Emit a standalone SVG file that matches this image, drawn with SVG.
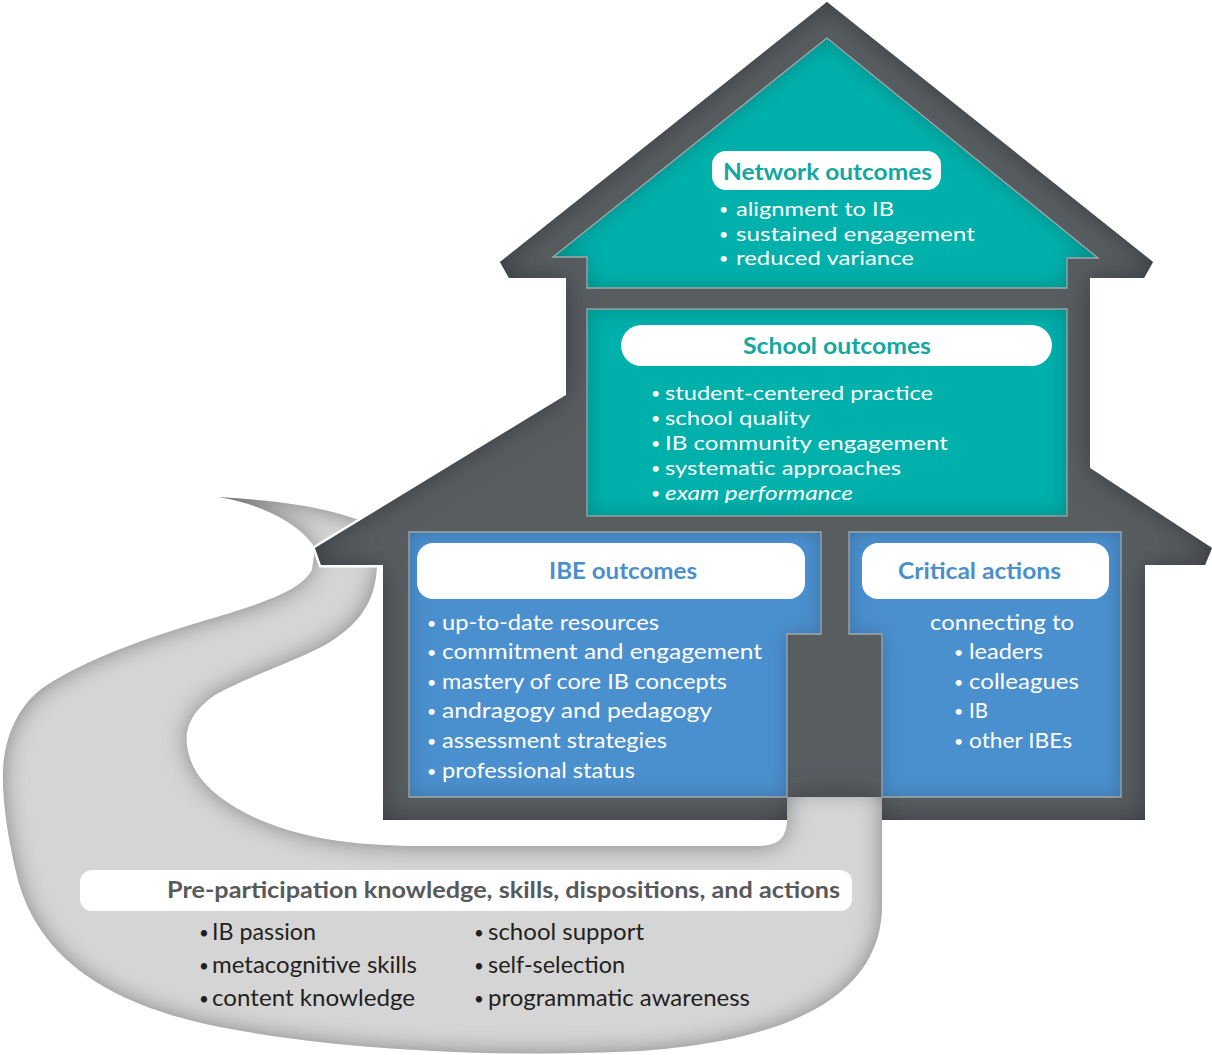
<svg xmlns="http://www.w3.org/2000/svg" xmlns:xlink="http://www.w3.org/1999/xlink" width="1212" height="1055" viewBox="0 0 1212 1055">
<style>
  text { font-family: Lato, "Open Sans", "DejaVu Sans", sans-serif; }
  .body { font-size: 22px; fill: #ffffff; }
  .tight { font-size: 20px; }
  .b { font-size: 16px; }
  .bb { font-size: 17px; }
  .title { font-size: 22px; font-weight: 700; text-anchor: middle; }
  .teal { fill: #12a7a2; }
  .blue { fill: #4a8fcb; }
  .bot { font-size: 23px; fill: #231f20; }
  .bottitle { font-size: 22px; font-weight: 700; fill: #58595b; }
  .edge { fill: none; stroke: #a3a6a8; stroke-width: 1.3; }
  .pill { fill: #ffffff; }
</style>
<defs>
  <filter id="inDark" x="-10%" y="-10%" width="120%" height="120%">
    <feFlood flood-color="#36393c" result="c"/>
    <feComposite in="c" in2="SourceAlpha" operator="out" result="o"/>
    <feGaussianBlur in="o" stdDeviation="14" result="b"/>
    <feComposite in="b" in2="SourceAlpha" operator="in" result="s"/>
    <feMerge><feMergeNode in="SourceGraphic"/><feMergeNode in="s"/></feMerge>
  </filter>
  <filter id="inTeal" x="-10%" y="-10%" width="120%" height="120%">
    <feFlood flood-color="#008580" result="c"/>
    <feComposite in="c" in2="SourceAlpha" operator="out" result="o"/>
    <feGaussianBlur in="o" stdDeviation="11" result="b"/>
    <feComposite in="b" in2="SourceAlpha" operator="in" result="s"/>
    <feMerge><feMergeNode in="SourceGraphic"/><feMergeNode in="s"/></feMerge>
  </filter>
  <filter id="inBlue" x="-10%" y="-10%" width="120%" height="120%">
    <feFlood flood-color="#3a70a3" result="c"/>
    <feComposite in="c" in2="SourceAlpha" operator="out" result="o"/>
    <feGaussianBlur in="o" stdDeviation="10" result="b"/>
    <feComposite in="b" in2="SourceAlpha" operator="in" result="s"/>
    <feMerge><feMergeNode in="SourceGraphic"/><feMergeNode in="s"/></feMerge>
  </filter>
  <filter id="inGray" x="-10%" y="-10%" width="120%" height="120%">
    <feFlood flood-color="#6f6f6f" result="c"/>
    <feComposite in="c" in2="SourceAlpha" operator="out" result="o"/>
    <feGaussianBlur in="o" stdDeviation="12" result="b"/>
    <feComposite in="b" in2="SourceAlpha" operator="in" result="s"/>
    <feMerge><feMergeNode in="SourceGraphic"/><feMergeNode in="s"/></feMerge>
  </filter>
  <path id="band" d="M218,497 C270,500 320,506 356,519 L420,540 L377,565 C376,595 365,620 330,642 C300,660 250,675 215,695 C190,712 185,730 187,745 C190,775 215,800 260,820 C300,837 350,846 420,846 L760,846 Q787,846 787,820 L787,790 L882,790 L882,905 C882,990 800,1040 640,1051 C500,1058 330,1050 210,1025 C110,1003 40,960 18,880 C8,840 2,800 3,770 C5,735 18,708 40,690 C75,665 130,643 200,622 C260,604 300,592 312,570 L315,548 C305,530 270,505 218,497 Z"/>
  <path id="hs" d="M827,2 L1153,262 L1144,278 L1090,278 L1090,468 L1212,548 L1205,565 L1145,565 L1145,820 L882,820 L882,797 L787,797 L787,820 L383,820 L383,565 L321,565 L315,548 L566,395 L566,278 L509,278 L500,262 Z"/>
  <clipPath id="doorClip"><rect x="787" y="797" width="95" height="30"/></clipPath>
  <path id="roofIn" d="M827,38 L553,257 L587,257 L587,288 L1067,288 L1067,258 L1098,258 Z"/>
  <path id="ibeBox" d="M409,532 L821,532 L821,634 L787,634 L787,797 L409,797 Z"/>
  <path id="critBox" d="M849,532 L1121,532 L1121,797 L882,797 L882,634 L849,634 Z"/>
  <rect id="schoolBox" x="587" y="309" width="480" height="207"/>
</defs>

<g id="connectors">
  <use xlink:href="#band" href="#band" fill="#d5d5d5" filter="url(#inGray)"/>
</g>

<g id="house">
  <use xlink:href="#hs" href="#hs" fill="none" stroke="#ffffff" stroke-width="5" stroke-linejoin="miter"/>
  <use xlink:href="#hs" href="#hs" fill="#595d60" filter="url(#inDark)"/>
</g>

<g id="door-path" clip-path="url(#doorClip)">
  <use xlink:href="#band" href="#band" fill="#d5d5d5" filter="url(#inGray)"/>
</g>

<g id="network">
  <use xlink:href="#roofIn" href="#roofIn" fill="#00b0ab" filter="url(#inTeal)"/>
  <use xlink:href="#roofIn" href="#roofIn" class="edge"/>
  <rect class="pill" x="712" y="151" width="229" height="39" rx="14"/>
  <text class="title teal" x="827.5" y="180" textLength="209" lengthAdjust="spacingAndGlyphs">Network outcomes</text>
  <text class="body tight"><tspan class="b" x="719" y="215">•</tspan><tspan x="736" y="216" textLength="158" lengthAdjust="spacingAndGlyphs">alignment to IB</tspan><tspan class="b" x="719" y="240">•</tspan><tspan x="736" y="241" textLength="239" lengthAdjust="spacingAndGlyphs">sustained engagement</tspan><tspan class="b" x="719" y="264">•</tspan><tspan x="736" y="265" textLength="178" lengthAdjust="spacingAndGlyphs">reduced variance</tspan></text>
</g>

<g id="school">
  <use xlink:href="#schoolBox" href="#schoolBox" fill="#00b0ab" filter="url(#inTeal)"/>
  <use xlink:href="#schoolBox" href="#schoolBox" class="edge"/>
  <rect class="pill" x="621" y="325" width="431" height="41" rx="20.5"/>
  <text class="title teal" x="837" y="354" textLength="188" lengthAdjust="spacingAndGlyphs">School outcomes</text>
  <text class="body tight"><tspan class="b" x="651" y="399">•</tspan><tspan x="665" y="400" textLength="268" lengthAdjust="spacingAndGlyphs">student-centered practice</tspan><tspan class="b" x="651" y="424">•</tspan><tspan x="665" y="425" textLength="145" lengthAdjust="spacingAndGlyphs">school quality</tspan><tspan class="b" x="651" y="449">•</tspan><tspan x="665" y="450" textLength="283" lengthAdjust="spacingAndGlyphs">IB community engagement</tspan><tspan class="b" x="651" y="474">•</tspan><tspan x="665" y="475" textLength="236" lengthAdjust="spacingAndGlyphs">systematic approaches</tspan><tspan class="b" x="651" y="499">•</tspan><tspan x="665" y="500" font-style="italic" textLength="188" lengthAdjust="spacingAndGlyphs">exam performance</tspan></text>
</g>

<g id="ibe">
  <use xlink:href="#ibeBox" href="#ibeBox" fill="#4b90ce" filter="url(#inBlue)"/>
  <use xlink:href="#ibeBox" href="#ibeBox" class="edge"/>
  <rect class="pill" x="417" y="543" width="388" height="56" rx="16"/>
  <text class="title blue" x="623" y="579" textLength="148" lengthAdjust="spacingAndGlyphs">IBE outcomes</text>
  <text class="body"><tspan class="b" x="427" y="629">•</tspan><tspan x="442" y="630" textLength="217" lengthAdjust="spacingAndGlyphs">up-to-date resources</tspan><tspan class="b" x="427" y="658">•</tspan><tspan x="442" y="659" textLength="320" lengthAdjust="spacingAndGlyphs">commitment and engagement</tspan><tspan class="b" x="427" y="688">•</tspan><tspan x="442" y="689" textLength="285" lengthAdjust="spacingAndGlyphs">mastery of core IB concepts</tspan><tspan class="b" x="427" y="717">•</tspan><tspan x="442" y="718" textLength="270" lengthAdjust="spacingAndGlyphs">andragogy and pedagogy</tspan><tspan class="b" x="427" y="747">•</tspan><tspan x="442" y="748" textLength="225" lengthAdjust="spacingAndGlyphs">assessment strategies</tspan><tspan class="b" x="427" y="777">•</tspan><tspan x="442" y="778" textLength="193" lengthAdjust="spacingAndGlyphs">professional status</tspan></text>
</g>

<g id="critical">
  <use xlink:href="#critBox" href="#critBox" fill="#4b90ce" filter="url(#inBlue)"/>
  <use xlink:href="#critBox" href="#critBox" class="edge"/>
  <rect class="pill" x="862" y="543" width="247" height="56" rx="16"/>
  <text class="title blue" x="979.5" y="579" textLength="163" lengthAdjust="spacingAndGlyphs">Critical actions</text>
  <text class="body"><tspan x="930" y="630" textLength="144" lengthAdjust="spacingAndGlyphs">connecting to</tspan><tspan class="b" x="954" y="658">•</tspan><tspan x="969" y="659" textLength="74" lengthAdjust="spacingAndGlyphs">leaders</tspan><tspan class="b" x="954" y="688">•</tspan><tspan x="969" y="689" textLength="110" lengthAdjust="spacingAndGlyphs">colleagues</tspan><tspan class="b" x="954" y="717">•</tspan><tspan x="969" y="718" textLength="19" lengthAdjust="spacingAndGlyphs">IB</tspan><tspan class="b" x="954" y="747">•</tspan><tspan x="969" y="748" textLength="103" lengthAdjust="spacingAndGlyphs">other IBEs</tspan></text>
</g>

<g id="preparticipation">
  <rect class="pill" x="80" y="870" width="772" height="41" rx="12"/>
  <text class="bottitle" x="167" y="898" textLength="673" lengthAdjust="spacingAndGlyphs">Pre-participation knowledge, skills, dispositions, and actions</text>
  <text class="bot"><tspan class="bb" x="199" y="939">•</tspan><tspan x="212" y="940" textLength="104" lengthAdjust="spacingAndGlyphs">IB passion</tspan><tspan class="bb" x="199" y="972">•</tspan><tspan x="212" y="973" textLength="205" lengthAdjust="spacingAndGlyphs">metacognitive skills</tspan><tspan class="bb" x="199" y="1005">•</tspan><tspan x="212" y="1006" textLength="203" lengthAdjust="spacingAndGlyphs">content knowledge</tspan></text>
  <text class="bot"><tspan class="bb" x="474" y="939">•</tspan><tspan x="488" y="940" textLength="156" lengthAdjust="spacingAndGlyphs">school support</tspan><tspan class="bb" x="474" y="972">•</tspan><tspan x="488" y="973" textLength="137" lengthAdjust="spacingAndGlyphs">self-selection</tspan><tspan class="bb" x="474" y="1005">•</tspan><tspan x="488" y="1006" textLength="262" lengthAdjust="spacingAndGlyphs">programmatic awareness</tspan></text>
</g>
</svg>
